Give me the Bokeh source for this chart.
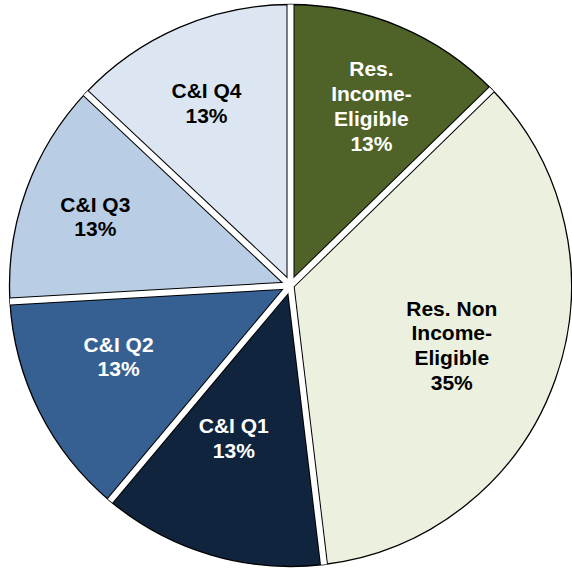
import numpy as np
from bokeh.plotting import figure
from bokeh.models import Range1d, ColumnDataSource
from bokeh.core.properties import value
from bokeh.embed import file_html
from bokeh.resources import INLINE

# ---- data ----
categories = ["Res.\nIncome-\nEligible", "Res. Non\nIncome-\nEligible", "C&I Q1", "C&I Q2", "C&I Q3", "C&I Q4"]
shares = [12.7, 35.4, 13.0, 13.0, 12.9, 13.0]
pct_labels = ["13%", "35%", "13%", "13%", "13%", "13%"]

# ---- styling / layout ----
colors = ["#4F6228", "#EBF1DE", "#10243E", "#376092", "#B9CDE5", "#DCE6F2"]
text_colors = ["white", "black", "white", "white", "black", "black"]
label_r = [197, 172, 163, 186, 207, 201]          # label distance from centre, px
label_da = [-1.4, -0.9, -3.8, -4.2, 0.5, 1.3]     # label angle offset, deg

W, H = 572, 569
cx, cy, R = 290, H - 285, 281

p = figure(width=W, height=H, output_backend="svg", toolbar_location=None,
           x_range=Range1d(0, W), y_range=Range1d(0, H), min_border=0,
           background_fill_color="white", border_fill_color="white")
p.axis.visible = False
p.grid.visible = False
p.outline_line_color = None

vals = np.array(shares, dtype=float)
frac = vals / vals.sum()
cum = np.concatenate([[0], np.cumsum(frac)])
start_deg = 90 - cum[1:] * 360
end_deg = 90 - cum[:-1] * 360
mid_deg = (start_deg + end_deg) / 2

src = ColumnDataSource(dict(
    x=[cx] * len(vals), y=[cy] * len(vals),
    start=np.radians(start_deg), end=np.radians(end_deg), color=colors))
p.wedge(x="x", y="y", radius=R, start_angle="start", end_angle="end",
        direction="anticlock", fill_color="color", line_color="black", line_width=1.3, source=src)

# separators (white gaps with thin black edges)
bd = np.radians(90 - cum[:-1] * 360)
x0 = [cx] * len(bd)
y0 = [cy] * len(bd)
x1 = list(cx + R * np.cos(bd))
y1 = list(cy + R * np.sin(bd))
p.segment(x0=x0, y0=y0, x1=x1, y1=y1, line_color="black", line_width=8)
p.segment(x0=x0, y0=y0, x1=x1, y1=y1, line_color="white", line_width=6)

labels = [f"{c}\n{l}" for c, l in zip(categories, pct_labels)]
la = np.radians(mid_deg + np.array(label_da))
lx = cx + np.array(label_r) * np.cos(la)
ly = cy + np.array(label_r) * np.sin(la)
tsrc = ColumnDataSource(dict(x=lx, y=ly, text=labels, color=text_colors))
p.text(x="x", y="y", text="text", source=tsrc, text_color="color",
       text_font=value("Liberation Sans"), text_font_style="bold", text_font_size="21px",
       text_align="center", text_baseline="middle", text_line_height=1.08)

open("out.html", "w").write(file_html(p, INLINE))
